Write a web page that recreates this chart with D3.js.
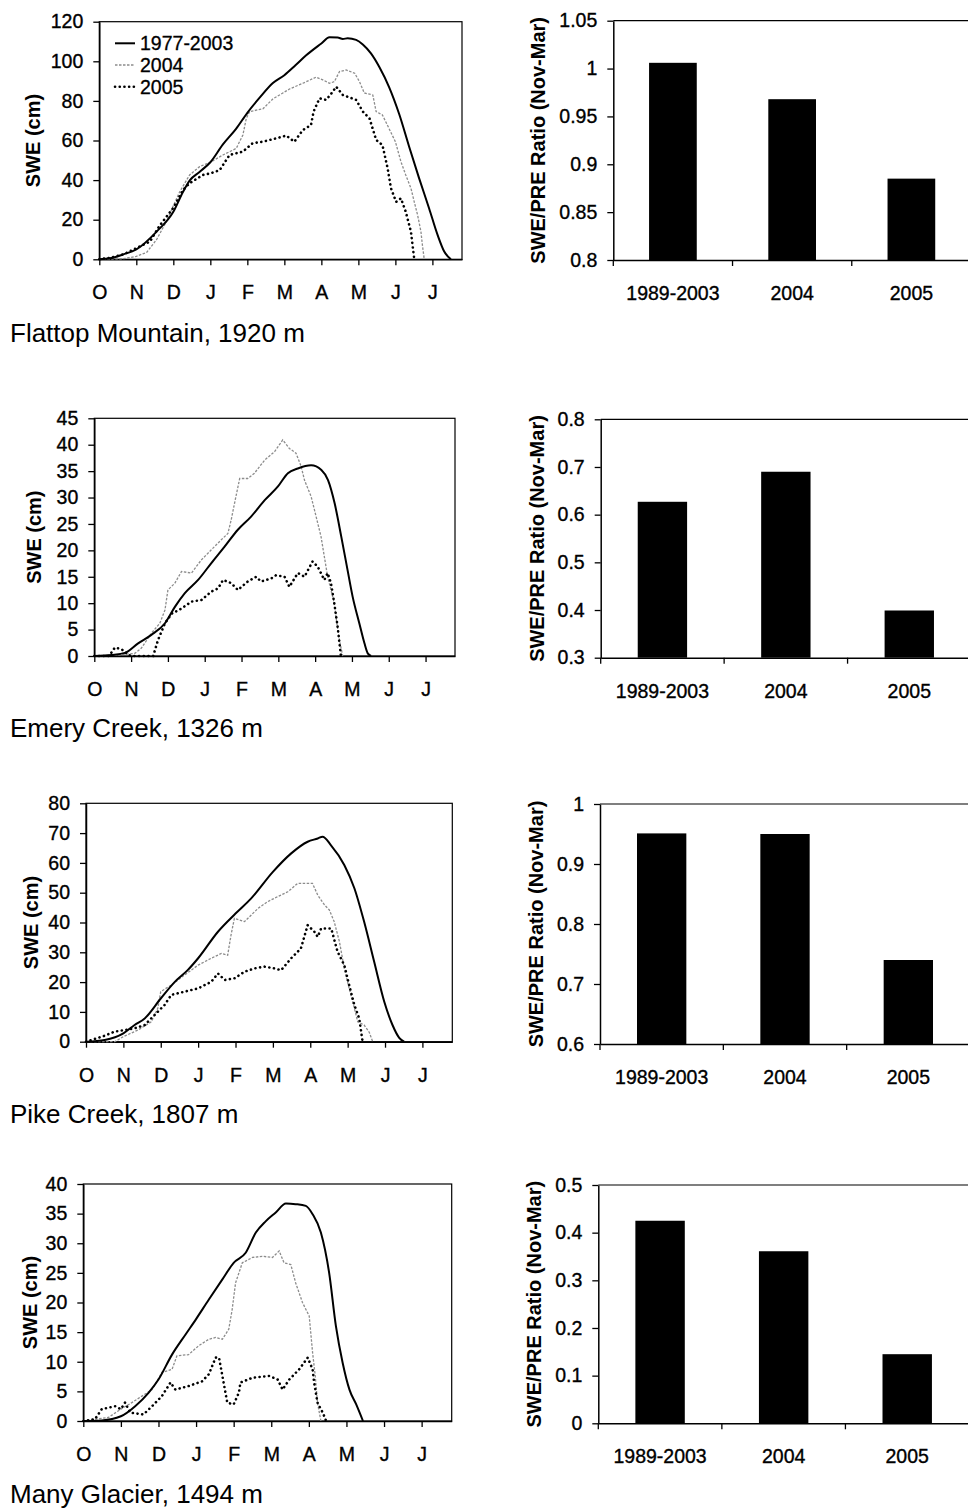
<!DOCTYPE html>
<html>
<head>
<meta charset="utf-8">
<script src="https://cdn.jsdelivr.net/npm/d3@7/dist/d3.min.js"></script>
<style>
  body { margin: 0; background: #fff; }
  svg { display: block; }
  text { font-family: "Liberation Sans", Arial, Helvetica, sans-serif; fill: #000; }
</style>
</head>
<body>
<svg id="fig" width="968" height="1509"></svg>
<script>
// ---- labels ----
const monthLabels = ["O", "N", "D", "J", "F", "M", "A", "M", "J", "J"];
const periodLabels = ["1989-2003", "2004", "2005"];
const seriesNames = ["1977-2003", "2004", "2005"];
const stationNames = ["Flattop Mountain, 1920 m", "Emery Creek, 1326 m", "Pike Creek, 1807 m", "Many Glacier, 1494 m"];

// ---- SWE (cm) traces: [months since 1 Oct, SWE] ----
const flattopMean = [[0,0],[0.29,0.5],[0.65,2.5],[1,5],[1.55,14],[2,24],[2.26,34],[2.45,40],[2.7,44],[3,49],[3.34,58],[3.7,66],[4,74],[4.35,82],[4.69,89],[5,93],[5.3,98],[5.59,103],[6,109],[6.22,112.1],[6.44,112],[6.58,111.3],[6.71,111.6],[6.94,110.8],[7.12,108.5],[7.34,104],[7.57,97],[7.83,87],[8.1,73.5],[8.37,57],[8.64,41],[8.91,25.8],[9.14,12.3],[9.32,3.9],[9.5,0]];
const flattop2004 = [[0,0],[0.65,0.3],[1,1.5],[1.28,3.5],[1.55,10],[1.81,19],[2,27],[2.17,34],[2.44,42.6],[2.71,46.8],[3,49],[3.34,52.7],[3.7,56],[3.88,62.8],[3.97,71],[4.06,74.6],[4.42,76],[4.69,81],[4.96,84],[5.14,86],[5.5,88.9],[5.86,92],[6.04,90.6],[6.22,88.9],[6.35,89.7],[6.49,94.8],[6.67,95.6],[6.9,94],[7.03,89.7],[7.16,84],[7.39,83],[7.48,74.6],[7.65,72.9],[7.83,66],[8,59.4],[8.15,49.3],[8.28,42.6],[8.42,35.9],[8.51,29],[8.6,22.4],[8.69,14],[8.73,7.2],[8.78,0]];
const flattop2005 = [[0,0],[0.3,0.8],[0.65,2.5],[1,5.6],[1.37,9],[1.63,17],[2,26],[2.26,35],[2.44,38.4],[2.8,42.6],[3,43.4],[3.25,45],[3.52,52.7],[3.88,54.4],[4.14,58.6],[4.42,59.4],[4.78,61.1],[5.05,62.5],[5.27,59.4],[5.5,65.3],[5.72,67.8],[5.79,74.6],[5.95,81.3],[6.13,80.5],[6.31,84.7],[6.4,87.2],[6.58,83],[6.94,80.5],[7.12,74.6],[7.3,71.2],[7.48,60.3],[7.65,57.7],[7.79,46],[7.88,35.9],[8.02,29],[8.15,30.8],[8.28,24],[8.42,14],[8.51,0]];

const emeryMean = [[0,0],[0.47,0.2],[0.83,0.6],[1.19,2.4],[1.55,4],[1.92,6.2],[2.19,9.3],[2.46,11.9],[2.82,14.4],[3.18,17.6],[3.54,20.7],[3.9,23.9],[4.26,26.4],[4.63,29.5],[4.99,32.1],[5.26,34.6],[5.53,35.5],[5.89,36.1],[6.17,35.2],[6.35,33.3],[6.53,28.9],[6.71,22.6],[6.88,16.3],[7.02,11.2],[7.2,6.2],[7.34,2.4],[7.43,0.5],[7.52,0]];
const emery2004 = [[0,0],[0.65,0.2],[1.1,0.5],[1.28,1.5],[1.55,4.3],[1.78,6.2],[1.92,8.7],[2,12.5],[2.19,13.8],[2.37,16],[2.64,15.7],[2.91,18.2],[3.18,20.1],[3.45,22],[3.63,23.2],[3.72,25.8],[3.81,28.9],[3.95,33.6],[4.17,33.6],[4.35,34.6],[4.63,37.1],[4.9,38.7],[5.12,40.9],[5.3,39.3],[5.48,38.4],[5.62,35.9],[5.71,33.3],[5.89,30.2],[5.98,27.7],[6.16,22.6],[6.25,18.8],[6.34,15],[6.43,12.5],[6.52,10],[6.59,6.2],[6.66,3],[6.75,0]];
const emery2005 = [[0,0],[0.4,0],[0.56,1.6],[0.74,1.3],[0.9,0.3],[1,0],[1.6,0],[1.73,3],[1.92,6.2],[2.1,8],[2.37,9],[2.64,10.3],[2.91,10.6],[3.18,12.2],[3.36,12.8],[3.5,14.4],[3.72,13.8],[3.9,12.5],[4.17,14.1],[4.4,15],[4.53,14.1],[4.81,14.7],[4.94,15.3],[5.17,15],[5.3,13.1],[5.53,15.7],[5.71,15],[5.93,17.9],[6.07,16.9],[6.25,14.4],[6.34,15.7],[6.43,13.8],[6.52,10],[6.61,5.6],[6.7,0]];

const pikeMean = [[0,0],[0.5,0.6],[1,2.8],[1.3,5.6],[1.57,7.8],[2,14.5],[2.37,20],[2.72,24],[3,28],[3.53,36.9],[4,43],[4.42,48.1],[5,57],[5.49,63.2],[5.93,67.1],[6.2,68.2],[6.33,68.8],[6.55,66],[6.91,59.3],[7.18,51.5],[7.44,40.3],[7.71,26.8],[7.98,13.4],[8.2,5.6],[8.38,1.3],[8.51,0]];
const pike2004 = [[0,0],[0.77,0],[1,1.7],[1.39,3.9],[1.75,6.7],[1.92,11.2],[2,16.8],[2.28,19],[2.64,22.4],[3,25.7],[3.35,28],[3.62,29.6],[3.79,29],[3.88,35.8],[3.97,41.4],[4.24,40.3],[4.6,44.7],[4.86,47],[5.13,48.7],[5.4,50.3],[5.66,53.1],[5.93,53.1],[6.06,53.1],[6.2,49.2],[6.38,45.9],[6.51,44.2],[6.64,40.3],[6.78,33.6],[6.91,24.6],[7.04,17.9],[7.18,11.2],[7.27,6.7],[7.44,5.6],[7.58,3.1],[7.67,0]];
const pike2005 = [[0,0],[0.5,2],[0.77,3.4],[1.03,3.9],[1.3,4.5],[1.57,5.6],[1.83,8.9],[2.1,12.3],[2.28,15.7],[2.64,16.8],[3,17.9],[3.35,20.1],[3.53,22.9],[3.71,20.7],[3.98,21.3],[4.24,23.5],[4.51,24.6],[4.77,25.2],[5.04,24.6],[5.22,24],[5.49,28],[5.75,31.3],[5.93,39.1],[6.11,36.9],[6.2,35.2],[6.29,38],[6.56,38],[6.73,30.2],[6.91,25.7],[7.04,19],[7.18,12.3],[7.31,7.8],[7.4,0]];

const glacierMean = [[0,0],[0.49,0.1],[1,0.8],[1.38,2.5],[1.74,4.8],[2,7],[2.36,11.2],[2.72,14.6],[3,17.2],[3.34,20.5],[3.7,23.9],[4,26.7],[4.32,28.4],[4.59,31.8],[4.85,33.7],[5.12,35.2],[5.39,36.7],[5.65,36.6],[5.92,36.3],[6.1,34.9],[6.32,31.8],[6.54,25],[6.72,16],[6.9,9.8],[7.08,5.3],[7.26,2.8],[7.44,0]];
const glacier2004 = [[0,0],[0.67,0.6],[1,2],[1.29,3.1],[1.56,4.2],[1.83,5.3],[2.09,8.2],[2.36,8.7],[2.49,11],[2.8,11.2],[3.07,12.7],[3.34,13.8],[3.52,14.1],[3.7,13.8],[3.87,15.5],[3.96,18.8],[4.05,23.3],[4.23,26.7],[4.5,27.6],[4.76,27.8],[5.03,27.6],[5.21,28.7],[5.34,26.7],[5.52,26.4],[5.65,23.3],[5.83,20],[6.01,17.7],[6.1,11.5],[6.17,7.6],[6.23,3.1],[6.32,0]];
const glacier2005 = [[0,0],[0.31,0.3],[0.49,2],[0.85,2.5],[1,2],[1.11,3.1],[1.25,1.4],[1.6,1.1],[1.83,2.5],[2.09,4.2],[2.32,6.5],[2.45,5.3],[2.8,5.9],[3.16,6.7],[3.34,7.9],[3.52,10.7],[3.61,10.7],[3.7,7.6],[3.83,3.1],[4,2.8],[4.14,4.8],[4.18,6.5],[4.5,7.3],[4.94,7.6],[5.17,7],[5.3,5.3],[5.48,7],[5.74,8.7],[5.97,10.7],[6.1,8.7],[6.14,6.5],[6.23,3.1],[6.37,1.4],[6.46,0]];

// ---- SWE/PRE ratio (Nov-Mar) ----
const flattopRatio = [1.006, 0.968, 0.885];
const emeryRatio = [0.627, 0.690, 0.399];
const pikeRatio = [0.951, 0.950, 0.740];
const glacierRatio = [0.425, 0.361, 0.145];

// ---- axis ticks ----
const sweTicksFlattop = [0, 20, 40, 60, 80, 100, 120];
const sweTicksEmery = [0, 5, 10, 15, 20, 25, 30, 35, 40, 45];
const sweTicksPike = [0, 10, 20, 30, 40, 50, 60, 70, 80];
const sweTicksGlacier = [0, 5, 10, 15, 20, 25, 30, 35, 40];
const ratioTicksFlattop = [0.8, 0.85, 0.9, 0.95, 1, 1.05];
const ratioTicksEmery = [0.3, 0.4, 0.5, 0.6, 0.7, 0.8];
const ratioTicksPike = [0.6, 0.7, 0.8, 0.9, 1];
const ratioTicksGlacier = [0, 0.1, 0.2, 0.3, 0.4, 0.5];

const MONTH_SPAN = 9.8; // Oct 1 .. end of July, in month-tick units

const svg = d3.select("#fig");
const fmt = d3.format("~g");

function styleAxis(g) {
  g.selectAll("path.domain").attr("stroke", "#000").attr("stroke-width", 1.5);
  g.selectAll(".tick line").attr("stroke", "#000").attr("stroke-width", 1.3);
  g.selectAll(".tick text").attr("font-size", 19.5).attr("fill", "#000")
    .attr("stroke", "#000").attr("stroke-width", 0.35)
    .attr("font-family", '"Liberation Sans", Arial, sans-serif');
}

function linePanel(cfg) {
  const { left, right, top, bottom, yMax, ticks, mean, y2004, y2005, title, titleX, titleY, legend } = cfg;
  const x = d3.scaleLinear().domain([0, MONTH_SPAN]).range([left, right]);
  const y = d3.scaleLinear().domain([0, yMax]).range([bottom, top]);
  const g = svg.append("g");

  // plot frame
  g.append("rect").attr("x", left).attr("y", top).attr("width", right - left).attr("height", bottom - top)
    .attr("fill", "none").attr("stroke", "#000").attr("stroke-width", 1.2);

  const yAxis = g.append("g").attr("transform", `translate(${left},0)`)
    .call(d3.axisLeft(y).tickValues(ticks).tickFormat(fmt).tickSize(6).tickSizeOuter(0).tickPadding(10));
  styleAxis(yAxis);

  const xAxis = g.append("g").attr("transform", `translate(0,${bottom})`)
    .call(d3.axisBottom(x).tickValues(d3.range(monthLabels.length)).tickFormat((d, i) => monthLabels[i])
      .tickSize(6).tickSizeOuter(0).tickPadding(20));
  styleAxis(xAxis);

  const smooth = d3.line().x(d => x(d[0])).y(d => y(d[1])).curve(d3.curveMonotoneX);
  const rough = d3.line().x(d => x(d[0])).y(d => y(d[1]));

  g.append("path").attr("d", rough(y2004)).attr("fill", "none")
    .attr("stroke", "#8c8c8c").attr("stroke-width", 1.3).attr("stroke-dasharray", "2.5,1.5");
  g.append("path").attr("d", rough(y2005)).attr("fill", "none")
    .attr("stroke", "#000").attr("stroke-width", 2.6).attr("stroke-linecap", "round")
    .attr("stroke-dasharray", "0.1,4.6");
  g.append("path").attr("d", smooth(mean)).attr("fill", "none")
    .attr("stroke", "#000").attr("stroke-width", 2);

  // axis title
  g.append("text").attr("transform", `translate(${titleX},${(top + bottom) / 2}) rotate(-90)`)
    .attr("text-anchor", "middle").attr("dominant-baseline", "central")
    .attr("font-size", 20).attr("font-weight", "bold").text("SWE (cm)");

  // station name
  g.append("text").attr("x", 10).attr("y", titleY).attr("font-size", 26).text(title);

  if (legend) {
    const styles = [
      { stroke: "#000", w: 2, dash: null, cap: "butt" },
      { stroke: "#8c8c8c", w: 1.3, dash: "2.5,1.5", cap: "butt" },
      { stroke: "#000", w: 2.6, dash: "0.1,4.6", cap: "round" }
    ];
    seriesNames.forEach((name, i) => {
      const cy = 43.3 + i * 21.7;
      g.append("line").attr("x1", 115).attr("x2", 135).attr("y1", cy).attr("y2", cy)
        .attr("stroke", styles[i].stroke).attr("stroke-width", styles[i].w)
        .attr("stroke-dasharray", styles[i].dash).attr("stroke-linecap", styles[i].cap);
      g.append("text").attr("x", 140).attr("y", cy).attr("dominant-baseline", "central")
        .attr("font-size", 19.5).attr("stroke", "#000").attr("stroke-width", 0.3).text(name);
    });
  }
}

function barPanel(cfg) {
  const { left, right, top, bottom, domain, ticks, values, titleX } = cfg;
  const x = d3.scaleBand().domain(periodLabels).range([left, right]).paddingInner(0.6).paddingOuter(0.3);
  const y = d3.scaleLinear().domain(domain).range([bottom, top]);
  const g = svg.append("g");

  // top border
  g.append("line").attr("x1", left).attr("x2", right).attr("y1", top).attr("y2", top)
    .attr("stroke", "#000").attr("stroke-width", 1.2);

  g.selectAll("rect.bar").data(values).join("rect").attr("class", "bar")
    .attr("x", (d, i) => x(periodLabels[i])).attr("width", x.bandwidth())
    .attr("y", d => y(d)).attr("height", d => bottom - y(d)).attr("fill", "#000");

  const yAxis = g.append("g").attr("transform", `translate(${left},0)`)
    .call(d3.axisLeft(y).tickValues(ticks).tickFormat(fmt).tickSize(6).tickSizeOuter(0).tickPadding(10));
  styleAxis(yAxis);

  const xAxis = g.append("g").attr("transform", `translate(0,${bottom})`)
    .call(d3.axisBottom(x).tickSize(0).tickSizeOuter(0).tickPadding(26));
  styleAxis(xAxis);
  // category boundary ticks
  const step = x.step();
  xAxis.selectAll("line.sep").data(d3.range(periodLabels.length + 1)).join("line").attr("class", "sep")
    .attr("x1", i => left + i * step).attr("x2", i => left + i * step)
    .attr("y1", 0).attr("y2", 6).attr("stroke", "#000").attr("stroke-width", 1.3);

  g.append("text").attr("transform", `translate(${titleX},${(top + bottom) / 2}) rotate(-90)`)
    .attr("text-anchor", "middle").attr("dominant-baseline", "central")
    .attr("font-size", 20).attr("font-weight", "bold").text("SWE/PRE Ratio (Nov-Mar)");
}

linePanel({ left: 99.3, right: 462, top: 21.7, bottom: 259.3, yMax: 120, ticks: sweTicksFlattop,
  mean: flattopMean, y2004: flattop2004, y2005: flattop2005, title: stationNames[0], titleX: 32.5, titleY: 342, legend: true });
linePanel({ left: 94.3, right: 455, top: 418.3, bottom: 656, yMax: 45, ticks: sweTicksEmery,
  mean: emeryMean, y2004: emery2004, y2005: emery2005, title: stationNames[1], titleX: 34, titleY: 737 });
linePanel({ left: 86, right: 452.3, top: 803.3, bottom: 1041.7, yMax: 80, ticks: sweTicksPike,
  mean: pikeMean, y2004: pike2004, y2005: pike2005, title: stationNames[2], titleX: 31, titleY: 1123 });
linePanel({ left: 83.3, right: 451.7, top: 1184, bottom: 1421, yMax: 40, ticks: sweTicksGlacier,
  mean: glacierMean, y2004: glacier2004, y2005: glacier2005, title: stationNames[3], titleX: 30, titleY: 1503 });

barPanel({ left: 613.3, right: 971, top: 20.7, bottom: 260, domain: [0.8, 1.05], ticks: ratioTicksFlattop,
  values: flattopRatio, titleX: 537.5 });
barPanel({ left: 600.7, right: 971, top: 419.3, bottom: 657.7, domain: [0.3, 0.8], ticks: ratioTicksEmery,
  values: emeryRatio, titleX: 537 });
barPanel({ left: 600, right: 970, top: 804, bottom: 1044, domain: [0.6, 1.0], ticks: ratioTicksPike,
  values: pikeRatio, titleX: 536 });
barPanel({ left: 598.3, right: 969, top: 1185, bottom: 1423.3, domain: [0, 0.5], ticks: ratioTicksGlacier,
  values: glacierRatio, titleX: 534 });
</script>
</body>
</html>
